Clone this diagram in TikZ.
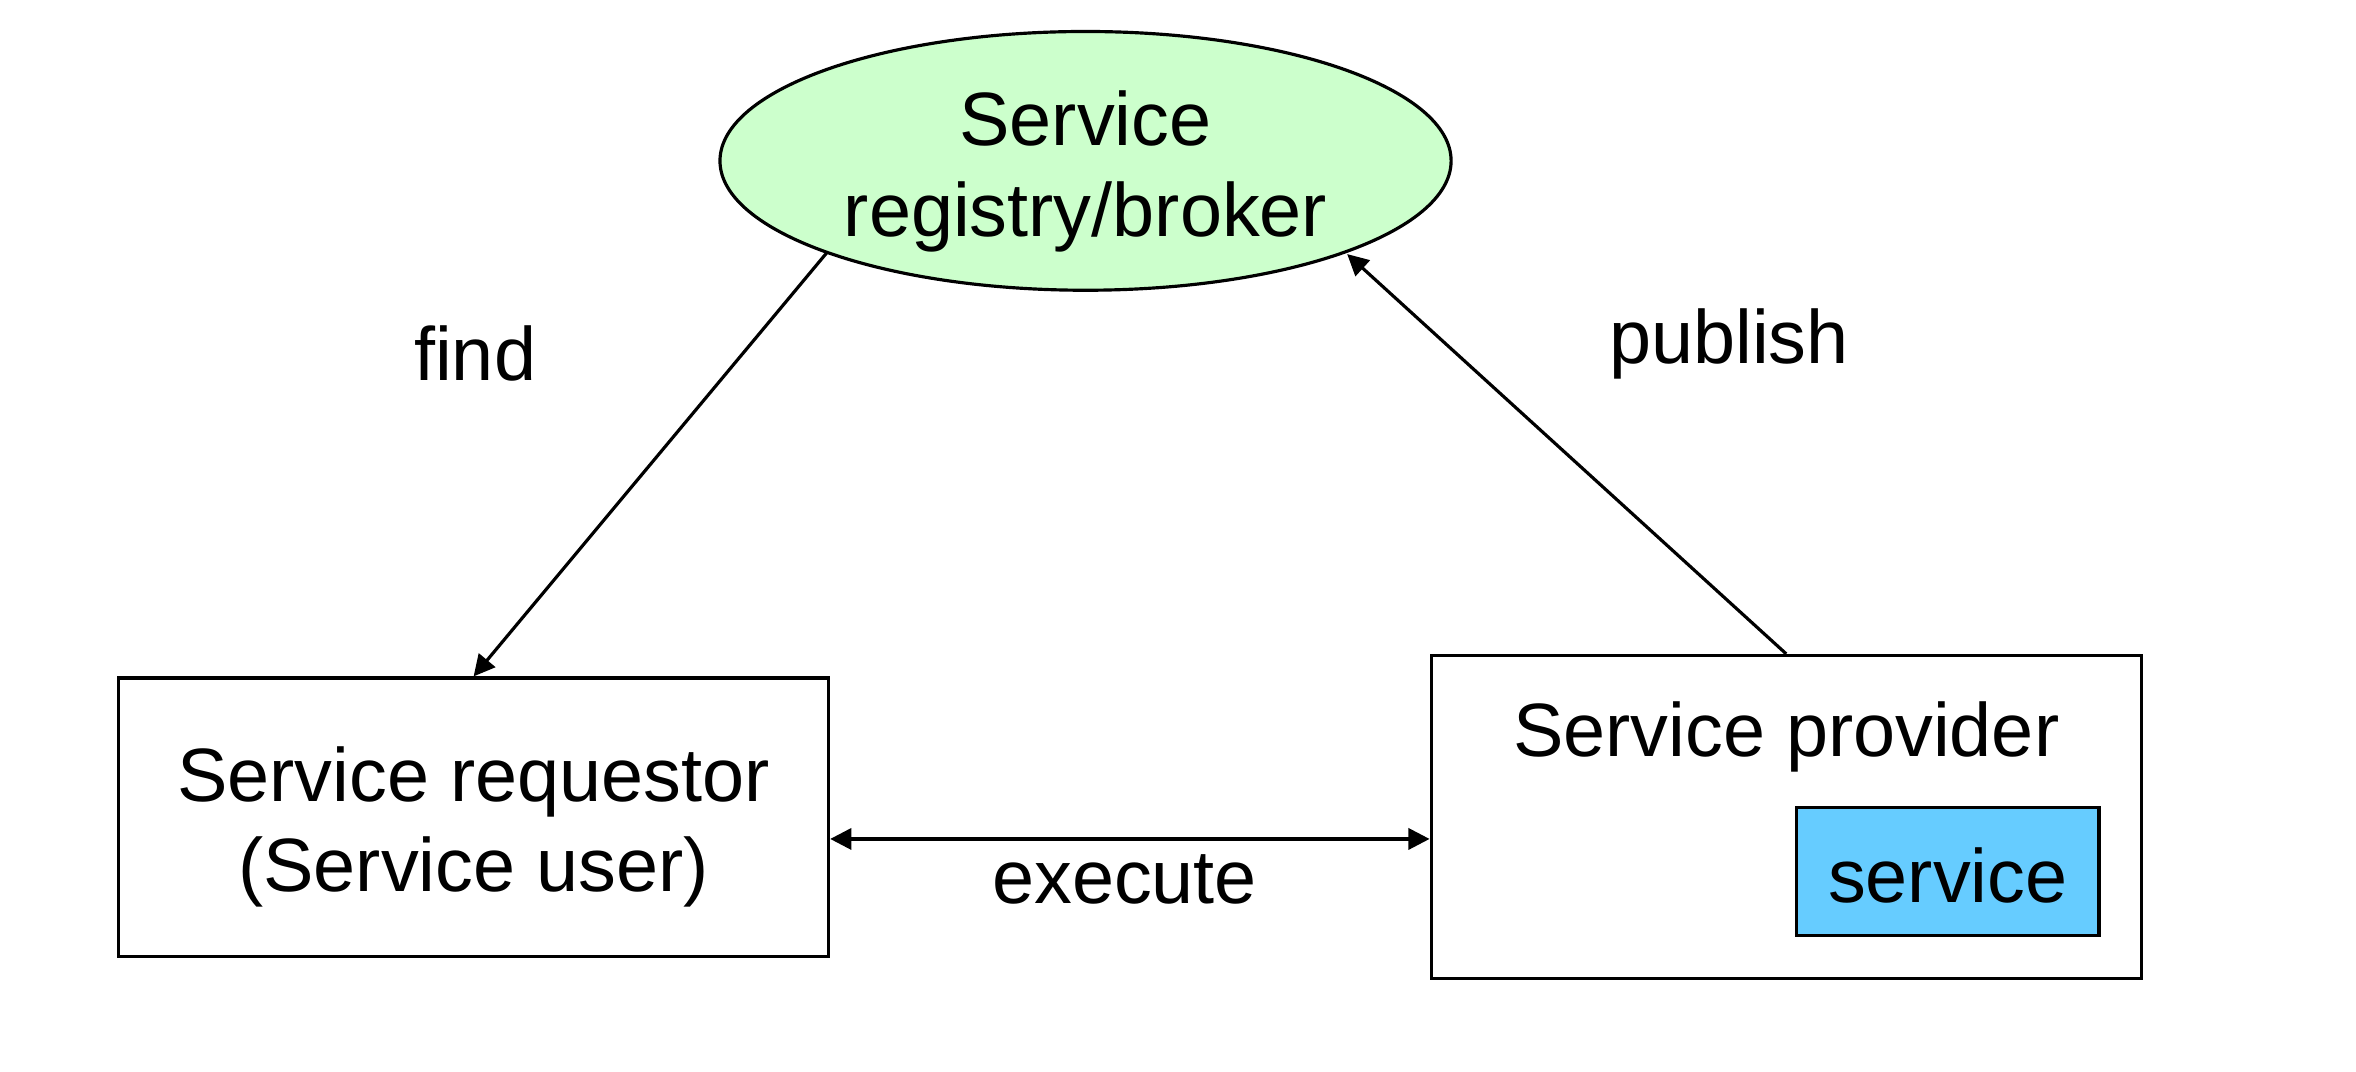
\documentclass[tikz,border=0pt]{standalone}
\usepackage{fontspec}
\setmainfont{Liberation Sans}
\usetikzlibrary{arrows.meta,shapes.geometric}
\begin{document}
\begin{tikzpicture}[x=0.01cm,y=-0.01cm,
  txt/.style={inner sep=0pt,anchor=base,font=\fontsize{14.3pt}{17pt}\selectfont},
  boxshape/.style={draw,line width=0.6pt,inner sep=0pt},
  conn/.style={line width=0.6pt,-{Triangle[length=4pt,width=4pt]}},
  lbl/.style={txt}]
\useasboundingbox (0,0) rectangle (1567,713);
% registry ellipse
\node[boxshape,ellipse,fill={rgb,255:red,204;green,255;blue,204},minimum width=4.86cm,minimum height=1.72cm] (reg) at (722,107) {};
\node[txt] (regA) at (722,97) {Service};
\node[txt] (regB) at (722,157) {registry/broker};
% requestor
\node[boxshape,minimum width=4.72cm,minimum height=1.85cm] (req) at (315,543.5) {};
\node[txt] (reqA) at (315,533) {Service requestor};
\node[txt] (reqB) at (315,593) {(Service user)};
% provider
\node[boxshape,minimum width=4.72cm,minimum height=2.15cm] (prov) at (1188,543.5) {};
\node[txt] (provA) at (1188,503) {Service provider};
\node[boxshape,fill={rgb,255:red,102;green,204;blue,255},minimum width=2.01cm,minimum height=0.85cm] (svc) at (1295.5,579.5) {};
\node[txt] (svcA) at (1295.5,600) {service};
% labels
\node[lbl] (find) at (316,253) {find};
\node[lbl] (publish) at (1150,242) {publish};
\node[lbl] (execute) at (748,601) {execute};
% connectors
\coordinate (fstart) at (550,168);
\coordinate (pend) at (896,169);
\draw[conn] (fstart) -- (req.north);
\draw[conn] (prov.north) -- (pend);
\draw[line width=0.6pt,{Triangle[length=4pt,width=4pt]}-{Triangle[length=4pt,width=4pt]}] (req.east |- 0,558) -- (prov.west |- 0,558);
\end{tikzpicture}
\end{document}
